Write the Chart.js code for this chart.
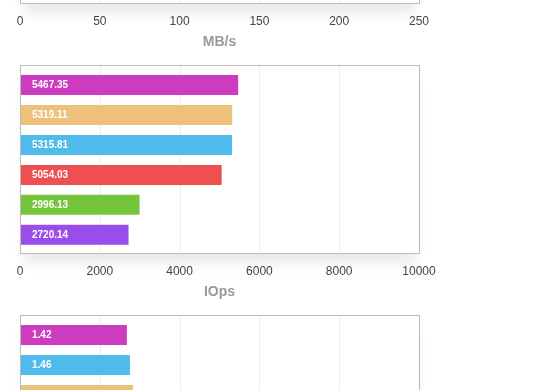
<!DOCTYPE html>
<html>
<head>
<meta charset="utf-8">
<script src="https://cdn.jsdelivr.net/npm/chart.js@4"></script>
<style>
  body { margin: 0; background: #fff; overflow: hidden; }
  .wrap { position: absolute; left: 0; width: 560px; height: 250px; }
</style>
</head>
<body>
<div class="wrap" style="top:-190px"><canvas id="mbs"></canvas></div>
<div class="wrap" style="top:60px"><canvas id="iops"></canvas></div>
<div class="wrap" style="top:310px"><canvas id="lat"></canvas></div>
<script>
// bars top to bottom
var mbsLabels = ["A", "B", "C", "D", "E", "F"];
var mbsValues = [138.2, 133.5, 131.9, 124.7, 74.3, 68.1];
var mbsColors = ["#CD3BBF", "#EDC17C", "#4FBBEB", "#EE4F50", "#74C53B", "#9B4DEB"];
var mbsTicks = [0, 50, 100, 150, 200, 250];

var iopsLabels = ["A", "B", "C", "D", "E", "F"];
var iopsValues = [5467.35, 5319.11, 5315.81, 5054.03, 2996.13, 2720.14];
var iopsColors = ["#CD3BBF", "#EDC17C", "#4FBBEB", "#EE4F50", "#74C53B", "#9B4DEB"];
var iopsTicks = [0, 2000, 4000, 6000, 8000, 10000];

var latLabels = ["A", "B", "C", "D", "E", "F"];
var latValues = [1.42, 1.46, 1.50, 1.58, 2.64, 2.91];
var latColors = ["#CD3BBF", "#4FBBEB", "#EDC17C", "#EE4F50", "#74C53B", "#9B4DEB"];

// the frame sits a little outside the bar area
var PAD_TOP = 5, PAD_BOTTOM = 3;

// white box with soft shadow, vertical grid from the x scale, grey frame
var boxPlugin = {
  id: 'box',
  beforeDatasetsDraw: function(chart) {
    var a = chart.chartArea, ctx = chart.ctx;
    var top = Math.round(a.top) - PAD_TOP, bottom = Math.round(a.bottom) + PAD_BOTTOM;
    ctx.save();
    ctx.shadowColor = 'rgba(0,0,0,0.09)';
    ctx.shadowBlur = 12;
    ctx.shadowOffsetY = 10;
    ctx.fillStyle = '#fff';
    ctx.fillRect(a.left + 4, top, a.right - a.left - 8, bottom - top);
    ctx.restore();
    ctx.save();
    ctx.fillStyle = '#fff';
    ctx.fillRect(a.left, top, a.right - a.left, bottom - top);
    ctx.strokeStyle = '#ececec';
    ctx.lineWidth = 1;
    var xs = chart.scales.x;
    xs.ticks.forEach(function(t) {
      var px = Math.round(xs.getPixelForValue(t.value)) + 0.5;
      ctx.beginPath();
      ctx.moveTo(px, top);
      ctx.lineTo(px, bottom);
      ctx.stroke();
    });
    ctx.restore();
  },
  afterDraw: function(chart) {
    var a = chart.chartArea, ctx = chart.ctx;
    var top = Math.round(a.top) - PAD_TOP, bottom = Math.round(a.bottom) + PAD_BOTTOM;
    ctx.save();
    ctx.strokeStyle = '#bbb';
    ctx.lineWidth = 1;
    ctx.strokeRect(Math.round(a.left) + 0.5, top + 0.5,
                   Math.round(a.right - a.left), bottom - top);
    ctx.restore();
  }
};

// value written inside each bar
var valuePlugin = {
  id: 'values',
  afterDatasetsDraw: function(chart) {
    var ctx = chart.ctx;
    var meta = chart.getDatasetMeta(0);
    ctx.save();
    ctx.fillStyle = '#fff';
    ctx.font = 'bold 10px "Liberation Sans", Arial, sans-serif';
    ctx.textBaseline = 'middle';
    meta.data.forEach(function(bar, i) {
      ctx.fillText(chart.data.datasets[0].data[i].toFixed(2), bar.base + 12, bar.y + 0.5);
    });
    ctx.restore();
  }
};

function makeChart(id, labels, values, colors, max, step, title) {
  return new Chart(document.getElementById(id), {
    type: 'bar',
    data: {
      labels: labels,
      datasets: [{
        data: values,
        backgroundColor: colors,
        barPercentage: 0.667,
        categoryPercentage: 1
      }]
    },
    options: {
      indexAxis: 'y',
      responsive: false,
      animation: false,
      layout: { padding: { left: 20, right: 141, top: 10, bottom: 5 } },
      plugins: { legend: { display: false }, tooltip: { enabled: false } },
      scales: {
        y: { display: false },
        x: {
          min: 0, max: max,
          grid: { display: false, drawTicks: false },
          border: { display: false },
          ticks: {
            stepSize: step,
            padding: 15,
            color: '#444',
            font: { family: '"Liberation Sans", Arial, sans-serif', size: 12 },
            callback: function(v) { return String(v); }
          },
          title: {
            display: true,
            text: title,
            color: '#999',
            padding: { top: -10, bottom: 4 },
            font: { family: '"Liberation Sans", Arial, sans-serif', size: 14, weight: 'bold' }
          }
        }
      }
    },
    plugins: [boxPlugin, valuePlugin]
  });
}

['mbs', 'iops', 'lat'].forEach(function(id) {
  var c = document.getElementById(id);
  c.width = 560; c.height = 250;
});

makeChart('mbs', mbsLabels, mbsValues, mbsColors, mbsTicks[mbsTicks.length - 1], 50, 'MB/s');
makeChart('iops', iopsLabels, iopsValues, iopsColors, iopsTicks[iopsTicks.length - 1], 2000, 'IOps');
makeChart('lat', latLabels, latValues, latColors, 5.3, 1.06, 'ms');
</script>
</body>
</html>
